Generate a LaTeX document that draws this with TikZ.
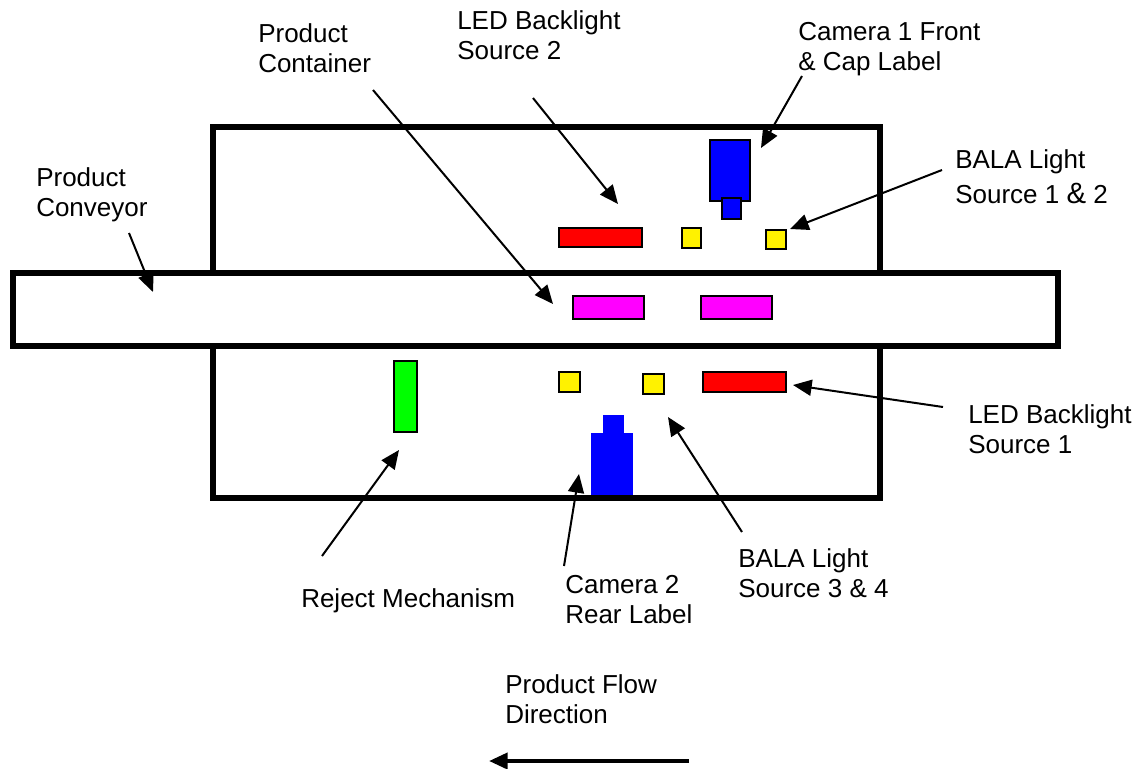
\documentclass[tikz,border=0pt]{standalone}
\usepackage{fontspec}
\setmainfont{Liberation Sans}
\usetikzlibrary{arrows.meta}
\definecolor{Mag}{RGB}{255,0,255}
\tikzstyle{Label}=[anchor=base west,inner sep=0pt,align=left,font=\fontsize{19.5pt}{22.5pt}\selectfont]
\tikzstyle{Line}=[-{Triangle[length=14pt,width=12pt]}, line width=1.5pt]
\tikzstyle{Wall}=[line width=4.5pt]
\tikzstyle{Part}=[draw,line width=1pt]
\tikzstyle{Red}=[Part,fill=red]
\tikzstyle{Yellow}=[Part,fill=yellow]
\tikzstyle{Blue}=[Part,fill=blue]
\tikzstyle{Magenta}=[Part,fill=Mag]
\tikzstyle{Green}=[Part,line width=1.5pt,fill=green]
\begin{document}
\begin{tikzpicture}[x=0.75pt,y=-0.75pt]

    \useasboundingbox (0,0) rectangle (1139,768);

    % housing and conveyor
    \draw[Wall] (213,127) rectangle (880,498);
    \draw[Wall,fill=white] (13,273) rectangle (1058,346);

    % upper parts
    \draw[Red] (559,228) rectangle (642,247);
    \draw[Yellow] (682,228) rectangle (701,248);
    \draw[Yellow] (766,230) rectangle (786,249);
    \draw[Blue] (710,140) rectangle (750,201);
    \draw[Blue] (722,198) rectangle (741,219);

    % containers on the belt
    \draw[Magenta] (573,296) rectangle (644,319);
    \draw[Magenta] (701,296) rectangle (772,319);

    % lower parts
    \draw[Yellow] (559,372) rectangle (580,392);
    \draw[Yellow] (643,374) rectangle (664,394);
    \draw[Red] (703,372) rectangle (786,392);
    \draw[Green] (394,361) rectangle (417,432);
    \fill[blue] (603,415) rectangle (624,434);
    \fill[blue] (591,433) rectangle (633,495);

    % labels (placed at the baseline of the last line)
    \node[Label] (conv) at (36,216) {Product\\Conveyor};
    \node[Label] (cont) at (258,72) {Product\\Container};
    \node[Label] (led2) at (457,59) {LED Backlight\\Source 2};
    \node[Label] (cam1) at (798,70) {Camera 1 Front\\\& Cap Label};
    \node[Label] (bala12) at (955,203) {BALA Light\\[3.5pt]Source 1 {\fontsize{22pt}{22.5pt}\selectfont\&} 2};
    \node[Label] (led1) at (968,453) {LED Backlight\\Source 1};
    \node[Label] (bala34) at (738,597) {BALA Light\\Source 3 \& 4};
    \node[Label] (cam2) at (565,623) {Camera 2\\Rear Label};
    \node[Label] (reject) at (301,607) {Reject Mechanism};
    \node[Label] (flow) at (505,723) {Product Flow\\Direction};

    % arrow ends
    \coordinate (conv-a) at (129,233);
    \coordinate (conv-b) at (153,292);
    \coordinate (cont-a) at (373,90);
    \coordinate (cont-b) at (553,304);
    \coordinate (led2-a) at (533,98);
    \coordinate (led2-b) at (618,204);
    \coordinate (cam1-a) at (802,76);
    \coordinate (cam1-b) at (761,148);
    \coordinate (bala12-a) at (942,170);
    \coordinate (bala12-b) at (790,229);
    \coordinate (led1-a) at (943,407);
    \coordinate (led1-b) at (793,385);
    \coordinate (bala34-a) at (742,532);
    \coordinate (bala34-b) at (668,417);
    \coordinate (cam2-a) at (564,566);
    \coordinate (cam2-b) at (579,474);
    \coordinate (reject-a) at (322,556);
    \coordinate (reject-b) at (399,450);
    \coordinate (flow-a) at (689,761);
    \coordinate (flow-b) at (489,761);

    \draw[Line] (conv-a) -- (conv-b);
    \draw[Line] (cont-a) -- (cont-b);
    \draw[Line] (led2-a) -- (led2-b);
    \draw[Line] (cam1-a) -- (cam1-b);
    \draw[Line] (bala12-a) -- (bala12-b);
    \draw[Line] (led1-a) -- (led1-b);
    \draw[Line] (bala34-a) -- (bala34-b);
    \draw[Line] (cam2-a) -- (cam2-b);
    \draw[Line] (reject-a) -- (reject-b);
    \draw[Line,line width=3pt] (flow-a) -- (flow-b);

\end{tikzpicture}
\end{document}
